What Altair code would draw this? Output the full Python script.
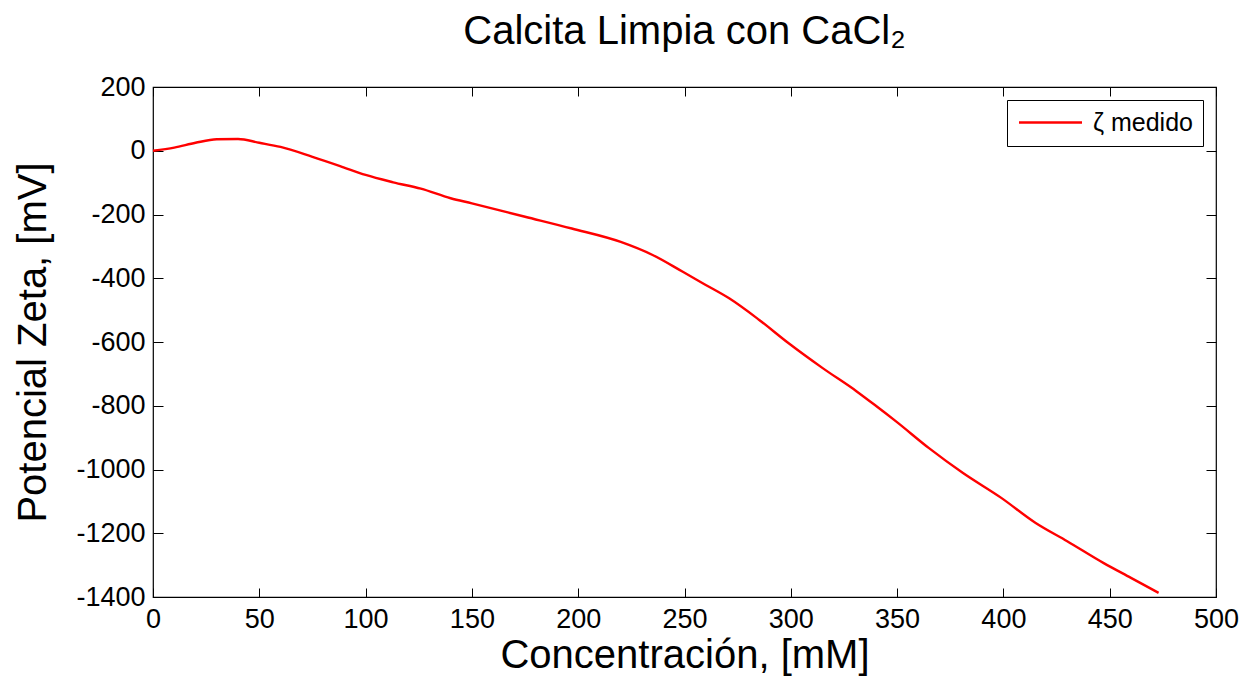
import altair as alt
import pandas as pd

conc = [0, 10, 20, 30, 40, 50, 60, 75, 88, 100, 113, 126, 140, 150, 175, 197, 220,
        235, 249, 260, 271, 285, 299, 315, 331, 340, 349.5, 365, 381, 399, 415, 430,
        447, 460, 473]
zeta = [0, 10, 25, 36, 37, 25, 12, -19, -48, -76, -99, -119, -149, -165, -207, -244, -286,
        -327, -379, -421, -463, -530, -604, -682, -755, -800, -849, -933, -1011, -1089,
        -1167, -1225, -1293, -1340, -1387]
serie = ["ζ medido"] * len(conc)

x_ticks = [0, 50, 100, 150, 200, 250, 300, 350, 400, 450, 500]
y_ticks = [200, 0, -200, -400, -600, -800, -1000, -1200, -1400]

df = pd.DataFrame({"conc": conc, "zeta": zeta, "serie": serie})

FONT = "Liberation Sans"
xs = alt.Scale(domain=[0, 500], nice=False, zero=False)
ys = alt.Scale(domain=[-1400, 200], nice=False, zero=False)

common = dict(domain=False, grid=False, tickColor="#000000", tickWidth=1,
              labelFont=FONT, labelColor="#000000", titleFont=FONT,
              titleColor="#000000", titleFontWeight="normal", labelFlush=False,
              labelOverlap=False)
minus_fix = "replace(datum.label, '\u2212', '-')"

line = alt.Chart(df).mark_line(strokeWidth=2.4, interpolate="monotone").encode(
    x=alt.X("conc:Q", scale=xs,
            axis=alt.Axis(orient="bottom", values=x_ticks, offset=-9, tickSize=9,
                          labelPadding=9, labelFontSize=27, title="Concentración, [mM]",
                          titleFontSize=40, titlePadding=3, format="d",
                          labelExpr=minus_fix, **common)),
    y=alt.Y("zeta:Q", scale=ys,
            axis=alt.Axis(orient="left", values=y_ticks, offset=-10, tickSize=10,
                          labelPadding=8, labelFontSize=27, title="Potencial Zeta, [mV]",
                          titleFontSize=40, titlePadding=22, format="d",
                          labelExpr=minus_fix, **common)),
    color=alt.Color("serie:N", scale=alt.Scale(range=["#ff0000"]),
                    legend=alt.Legend(title=None, orient="top-right", offset=13,
                                      symbolType="M-3,0L3,0", symbolSize=441,
                                      symbolStrokeWidth=2.4, symbolOffset=21,
                                      labelFont=FONT, labelFontSize=25,
                                      labelColor="#000000", labelOffset=30,
                                      padding=10, strokeColor="#000000",
                                      fillColor="#ffffff", labelLimit=300)),
)

mirror = alt.Chart(df).mark_point(opacity=0).encode(
    x=alt.X("conc:Q", scale=xs,
            axis=alt.Axis(orient="top", values=x_ticks, offset=-9, tickSize=9,
                          labels=False, title=None, **common)),
    y=alt.Y("zeta:Q", scale=ys,
            axis=alt.Axis(orient="right", values=y_ticks, offset=-10, tickSize=10,
                          labels=False, title=None, **common)),
)

chart = alt.layer(line, mirror).resolve_axis(x="independent", y="independent").properties(
    width=1063,
    height=510,
    autosize=alt.AutoSizeParams(type="none"),
    padding={"left": 145, "top": 79, "right": 27, "bottom": 82},
    title=alt.Title("Calcita Limpia con CaCl₂", font=FONT, fontSize=40,
                    fontWeight="normal", color="#000000", anchor="middle", offset=21),
).configure_view(stroke="#000000", strokeWidth=1.2)

chart.save("out.html", embed_options={"renderer": "svg", "actions": False})
